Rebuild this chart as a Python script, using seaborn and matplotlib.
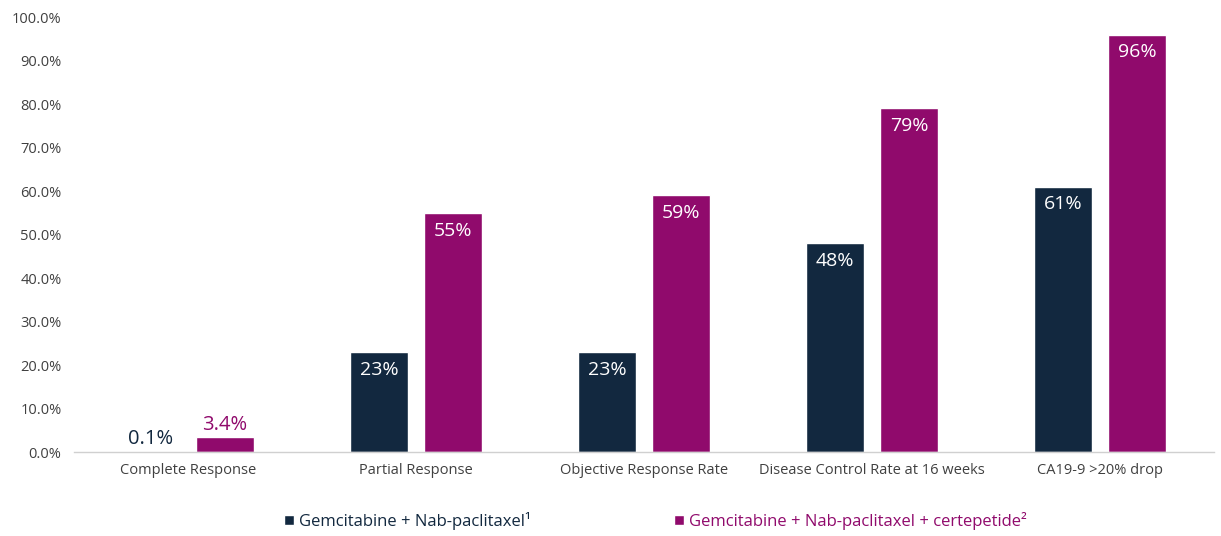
import matplotlib
matplotlib.use("Agg")
import matplotlib.pyplot as plt
import pandas as pd
import seaborn as sns
from matplotlib.patches import Patch
from matplotlib.ticker import FuncFormatter

CATEGORIES = ["Complete Response", "Partial Response", "Objective Response Rate",
              "Disease Control Rate at 16 weeks", "CA19-9 >20% drop"]
SERIES = ["Gemcitabine + Nab-paclitaxel\u00b9",
          "Gemcitabine + Nab-paclitaxel + certepetide\u00b2"]
GEM_NAB = [0.1, 23, 23, 48, 61]
GEM_NAB_CERT = [3.4, 55, 59, 79, 96]
LABELS_A = ["0.1%", "23%", "23%", "48%", "61%"]
LABELS_B = ["3.4%", "55%", "59%", "79%", "96%"]
YTICKS = [0, 10, 20, 30, 40, 50, 60, 70, 80, 90, 100]

NAVY = "#12283f"
MAGENTA = "#900a6c"


def main():
    sns.set_theme(style="white")
    plt.rcParams["font.family"] = ["Open Sans", "DejaVu Sans"]

    df = pd.DataFrame({
        "category": CATEGORIES * 2,
        "series": [SERIES[0]] * 5 + [SERIES[1]] * 5,
        "value": GEM_NAB + GEM_NAB_CERT,
    })

    fig = plt.figure(figsize=(12.21, 5.36), dpi=100)
    ax = fig.add_axes([0.0606, 0.1567, 0.9337, 0.8113])
    sns.barplot(data=df, x="category", y="value", hue="series",
                palette=[NAVY, MAGENTA], width=0.65, gap=0.22,
                saturation=1, legend=False, ax=ax)

    ax.set_xlim(-0.5, 4.5)
    ax.set_ylim(0, 100)
    ax.set_yticks(YTICKS)
    ax.yaxis.set_major_formatter(FuncFormatter(lambda v, _: f"{v:.1f}%"))
    ax.set_xlabel("")
    ax.set_ylabel("")
    ax.tick_params(axis="both", length=0, labelsize=10.5, colors="#404040")
    ax.tick_params(axis="x", pad=8)
    ax.tick_params(axis="y", pad=9)
    for s in ["left", "right", "top"]:
        ax.spines[s].set_visible(False)
    ax.spines["bottom"].set_color("#d0d0d0")
    ax.spines["bottom"].set_linewidth(1.0)

    # value labels: inside the top of tall bars, above the tiny ones
    for container, labels, color in zip(ax.containers, [LABELS_A, LABELS_B],
                                        [NAVY, MAGENTA]):
        for bar, lab in zip(container, labels):
            h = bar.get_height()
            cx = bar.get_x() + bar.get_width() / 2
            if h < 10:
                ax.text(cx, h + 0.6, lab, ha="center", va="bottom",
                        fontsize=14.5, color=color)
            else:
                ax.text(cx, h - 2.0, lab, ha="center", va="top",
                        fontsize=14, color="white")

    handles = [Patch(facecolor=NAVY, label=SERIES[0]),
               Patch(facecolor=MAGENTA, label=SERIES[1])]
    leg = fig.legend(handles=handles, loc="center", bbox_to_anchor=(0.537, 0.028),
                     ncol=2, frameon=False, fontsize=12, handlelength=0.6,
                     handleheight=0.6, handletextpad=0.3, columnspacing=8.6)
    for t, c in zip(leg.get_texts(), [NAVY, MAGENTA]):
        t.set_color(c)

    fig.savefig("out.png", dpi=100)
    plt.close(fig)


if __name__ == "__main__":
    main()
